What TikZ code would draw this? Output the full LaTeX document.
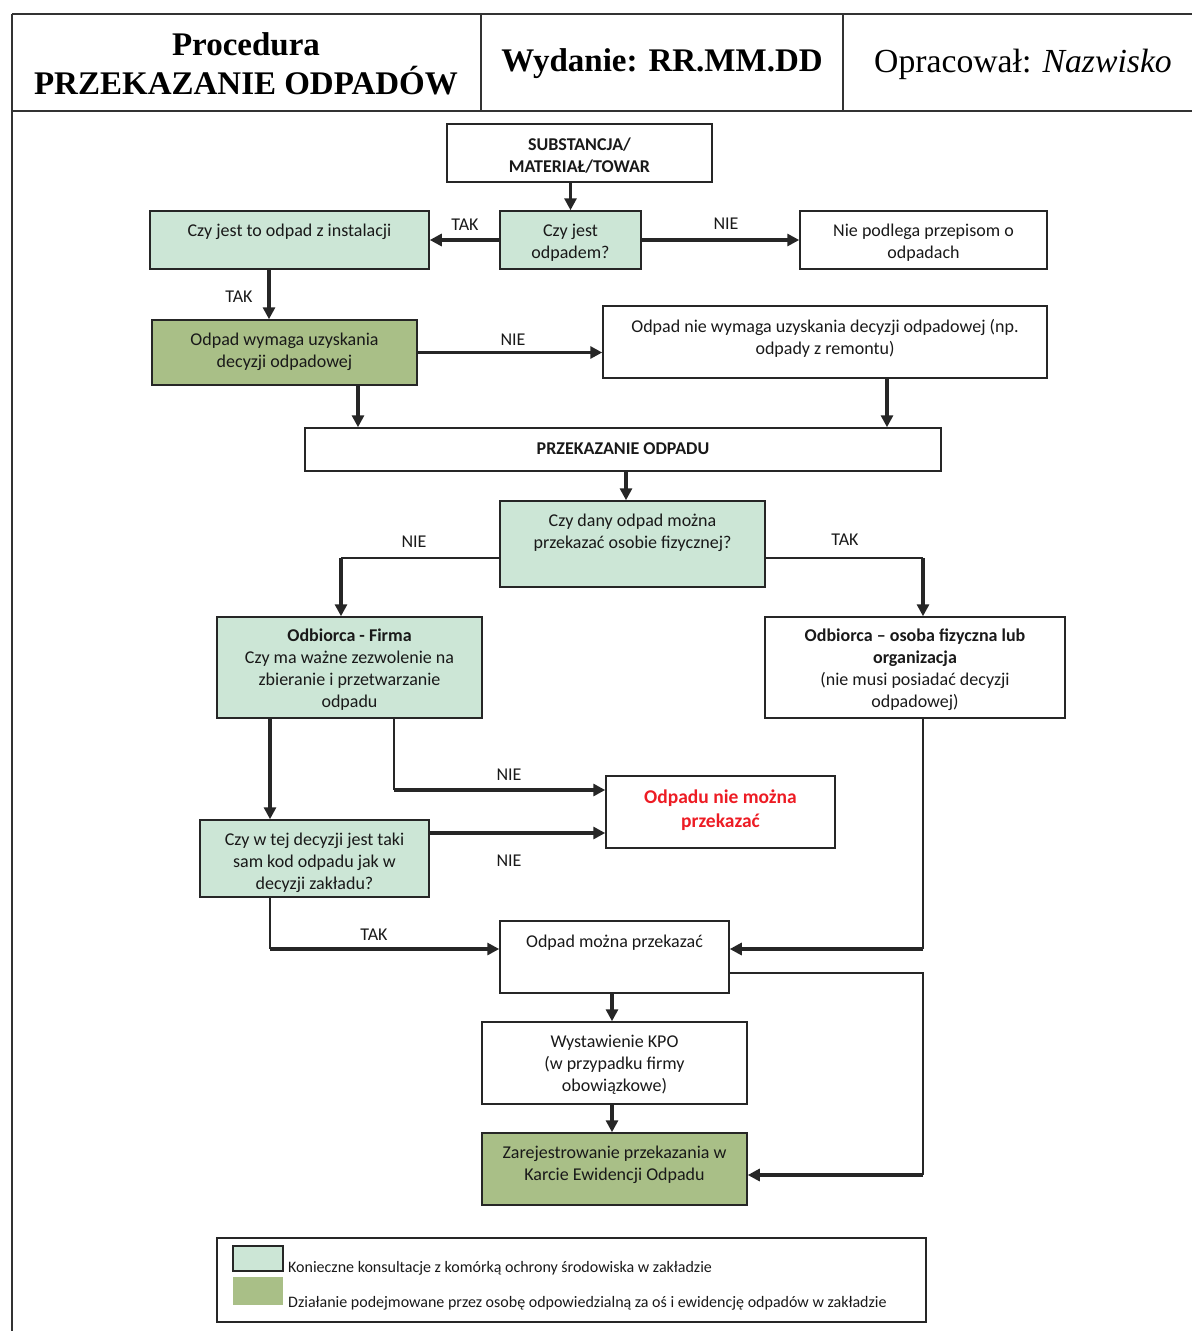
\documentclass[tikz,border=0pt]{standalone}
\usepackage{fontspec}
\setmainfont{Carlito}
\newfontfamily\hdrfont{Liberation Serif}
\usetikzlibrary{arrows.meta}
\definecolor{lgreen}{HTML}{CCE6D6}
\definecolor{dgreen}{HTML}{A9BF87}
\definecolor{redtxt}{HTML}{ED1C24}
\definecolor{edge}{HTML}{262626}
\tikzset{
  box/.style={draw=edge, line width=1.5pt, inner sep=0pt},
  sz/.style 2 args={minimum width=#1, minimum height=#2},
  txt/.style={align=center, inner sep=0pt, yshift=-1.5pt, font=\fontsize{18}{22}\selectfont, text=black!90},
  lbl/.style={inner sep=0pt, yshift=-1.5pt, font=\fontsize{18}{20}\selectfont, text=black!90},
  arr/.style={draw=edge, line width=3.2pt, -{Triangle[length=12pt,width=12pt]}},
  thinln/.style={draw=edge, line width=1.6pt},
  hline/.style={draw=black!80, line width=1.6pt},
  hdr/.style={inner sep=0pt, font=\hdrfont\fontsize{33}{39}\selectfont},
  lgtxt/.style={anchor=west, inner sep=0pt, font=\fontsize{16}{18}\selectfont, text=black!90}
}
\begin{document}
\begin{tikzpicture}[x=1pt,y=-1pt]
\useasboundingbox (0,0) rectangle (1192,1331);
% header frame
\draw[hline] (12,14) -- (1192,14);
\draw[hline] (12,111) -- (1192,111);
\draw[hline] (12,14) -- (12,1331);
\draw[hline] (481,14) -- (481,111);
\draw[hline] (843,14) -- (843,111);
\node[hdr, align=center] (h1) at (246,64) {\bfseries Procedura\\\bfseries PRZEKAZANIE ODPADÓW};
\node[hdr] (h2) at (662,64) {\bfseries Wydanie: RR.MM.DD};
\node[hdr, font=\hdrfont\fontsize{33.7}{39}\selectfont] (h3) at (1023,64) {Opracował: \itshape Nazwisko};

% boxes
\node[box, sz={265pt}{58pt}] (sub) at (579.5,153) {};
\node[txt, font=\fontsize{18}{22}\selectfont\bfseries] (subt) at (579.5,154) {SUBSTANCJA/\\MATERIAŁ/TOWAR};

\node[box, fill=lgreen, sz={141pt}{58pt}] (q1) at (570.5,240) {};
\node[txt] (q1t) at (570.5,241) {Czy jest\\odpadem?};

\node[box, fill=lgreen, sz={279pt}{58pt}] (inst) at (289.5,240) {};
\node[txt] (instt) at (289.5,230) {Czy jest to odpad z instalacji};

\node[box, sz={247pt}{58pt}] (niep) at (923.5,240) {};
\node[txt] (niept) at (923.5,241) {Nie podlega przepisom o\\odpadach};

\node[box, fill=dgreen, sz={265pt}{65pt}] (wym) at (284.5,352.5) {};
\node[txt] (wymt) at (284.5,350) {Odpad wymaga uzyskania\\decyzji odpadowej};

\node[box, sz={444pt}{72pt}] (niew) at (825,342) {};
\node[txt] (niewt) at (825,337) {Odpad nie wymaga uzyskania decyzji odpadowej (np.\\odpady z remontu)};

\node[box, sz={636pt}{43pt}] (prz) at (623,449.5) {};
\node[txt, font=\fontsize{18}{22}\selectfont\bfseries] (przt) at (623,447) {PRZEKAZANIE ODPADU};

\node[box, fill=lgreen, sz={265pt}{86pt}] (q2) at (632.5,544) {};
\node[txt] (q2t) at (632.5,531) {Czy dany odpad można\\przekazać osobie fizycznej?};

\node[box, fill=lgreen, sz={265pt}{101pt}] (firma) at (349.5,667.5) {};
\node[txt] (firmat) at (349.5,668.5) {\textbf{Odbiorca - Firma}\\Czy ma ważne zezwolenie na\\zbieranie i przetwarzanie\\odpadu};

\node[box, sz={300pt}{101pt}] (osoba) at (915,667.5) {};
\node[txt] (osobat) at (915,668.5) {\textbf{Odbiorca – osoba fizyczna lub}\\\textbf{organizacja}\\(nie musi posiadać decyzji\\odpadowej)};

\node[box, sz={229pt}{72pt}] (nie) at (720.5,812) {};
\node[txt, font=\fontsize{19.5}{24}\selectfont\bfseries, text=redtxt] (niet) at (720.5,809) {Odpadu nie można\\przekazać};

\node[box, fill=lgreen, sz={229pt}{77pt}] (q3) at (314.5,858.5) {};
\node[txt] (q3t) at (314.5,861) {Czy w tej decyzji jest taki\\sam kod odpadu jak w\\decyzji zakładu?};

\node[box, sz={229pt}{72pt}] (mozna) at (614.5,957) {};
\node[txt] (moznat) at (614.5,941) {Odpad można przekazać};

\node[box, sz={265pt}{82pt}] (kpo) at (614.5,1063) {};
\node[txt] (kpot) at (614.5,1063) {Wystawienie KPO\\(w przypadku firmy\\obowiązkowe)};

\node[box, fill=dgreen, sz={265pt}{72pt}] (zar) at (614.5,1169) {};
\node[txt] (zart) at (614.5,1163) {Zarejestrowanie przekazania w\\Karcie Ewidencji Odpadu};

% helper coordinates
\coordinate (cA) at (269,0);
\coordinate (cB) at (358,0);
\coordinate (cC) at (887,0);
\coordinate (cD) at (626,0);
\coordinate (cE) at (341,558);
\coordinate (cF) at (923,558);
\coordinate (cG) at (270,0);
\coordinate (cH) at (394,790);
\coordinate (cI) at (0,833);
\coordinate (cJ) at (270,949);
\coordinate (cK) at (923,949);
\coordinate (cL) at (923,973);
\coordinate (cM) at (923,1175);
\coordinate (cN) at (612,0);

% connectors
\draw[arr] (q1.north |- sub.south) -- (q1.north);
\draw[arr] (q1.west) -- (inst.east);
\draw[arr] (q1.east) -- (niep.west);
\draw[arr] (inst.south -| cA) -- (wym.north -| cA);
\draw[arr] (wym.east) -- (niew.west |- wym.east);
\draw[arr] (wym.south -| cB) -- (prz.north -| cB);
\draw[arr] (niew.south -| cC) -- (prz.north -| cC);
\draw[arr] (prz.south -| cD) -- (q2.north -| cD);
\draw[thinln] (q2.west |- cE) -- (cE);
\draw[arr] (cE) -- (firma.north -| cE);
\draw[thinln] (q2.east |- cF) -- (cF);
\draw[arr] (cF) -- (osoba.north -| cF);
\draw[arr] (firma.south -| cG) -- (q3.north -| cG);
\draw[thinln] (firma.south -| cH) -- (cH);
\draw[arr] (cH) -- (nie.west |- cH);
\draw[arr] (q3.east |- cI) -- (nie.west |- cI);
\draw[thinln] (q3.south -| cJ) -- (cJ);
\draw[arr] (cJ) -- (mozna.west |- cJ);
\draw[thinln] (osoba.south -| cK) -- (cK);
\draw[arr] (cK) -- (mozna.east |- cK);
\draw[thinln] (mozna.east |- cL) -- (cL) -- (cM);
\draw[arr] (cM) -- (zar.east |- cM);
\draw[arr] (mozna.south -| cN) -- (kpo.north -| cN);
\draw[arr] (kpo.south -| cN) -- (zar.north -| cN);

% connector labels
\node[lbl] (l1) at (465,223) {TAK};
\node[lbl] (l2) at (726,222) {NIE};
\node[lbl] (l3) at (239,295) {TAK};
\node[lbl] (l4) at (513,338) {NIE};
\node[lbl] (l5) at (414,540) {NIE};
\node[lbl] (l6) at (845,538) {TAK};
\node[lbl] (l7) at (509,773) {NIE};
\node[lbl] (l8) at (509,859) {NIE};
\node[lbl] (l9) at (374,933) {TAK};

% legend
\node[box, sz={709pt}{84pt}] (leg) at (571.5,1280) {};
\node[box, fill=lgreen, sz={50pt}{25pt}] (sw1) at (258,1258.5) {};
\node[inner sep=0pt, fill=dgreen, sz={50pt}{28pt}] (sw2) at (258,1291) {};
\node[lgtxt] (lt1) at (288,1268) {Konieczne konsultacje z komórką ochrony środowiska w zakładzie};
\node[lgtxt] (lt2) at (288,1303) {Działanie podejmowane przez osobę odpowiedzialną za oś i ewidencję odpadów w zakładzie};
\end{tikzpicture}
\end{document}
